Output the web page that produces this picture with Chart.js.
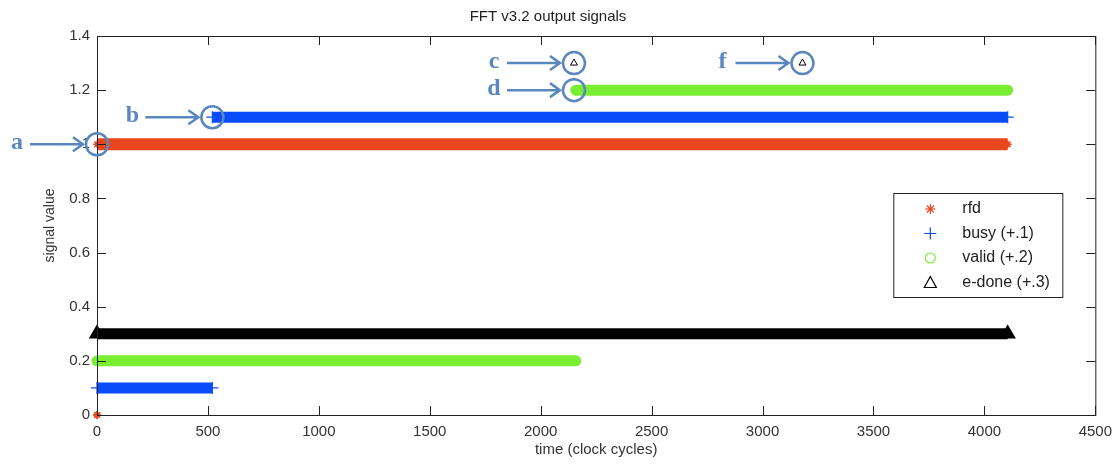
<!DOCTYPE html>
<html>
<head>
<meta charset="utf-8">
<script src="https://cdn.jsdelivr.net/npm/chart.js@4.4.0/dist/chart.umd.min.js"></script>
<style>
    html, body { margin: 0; padding: 0; background: #fff; }
    #wrap { width: 1120px; height: 469px; }
</style>
</head>
<body>
<div id="wrap"><canvas id="fft"></canvas></div>
<script>
// step signals: edges in clock cycles, level (0/1) between edges
const rfdEdges = [0, 1, 4105];
const rfdLevels = [0, 1];
const busyEdges = [0, 520, 4105];
const busyLevels = [0, 1];
const validEdges = [0, 2158, 4105];
const validLevels = [0, 1];
const edoneEdges = [0, 4105];
const edoneLevels = [0];
const edonePulses = [2150, 3180]; // single cycle highs of e-done

// plot offsets so the traces don't overlap
const offsets = { rfd: 0, busy: 0.1, valid: 0.2, edone: 0.3 };

// axis ticks
const xTicks = [0, 500, 1000, 1500, 2000, 2500, 3000, 3500, 4000, 4500];
const yTicks = [0, 0.2, 0.4, 0.6, 0.8, 1, 1.2, 1.4];

// callouts a..f (point in data coords)
const calloutLabels = ['a', 'b', 'c', 'd', 'f'];
const calloutX = [0, 520, 2150, 2150, 3180];
const calloutY = [1, 1.1, 1.3, 1.2, 1.3];

const legendNames = ['rfd', 'busy (+.1)', 'valid (+.2)', 'e-done (+.3)'];

const RED = '#e8461e';
const BLUE = '#0a4cf7';
const GREEN = '#79ee32';
const NOTE = '#5b87bf';
const FONT = '"Liberation Sans", Arial, sans-serif';

function steps(edges, levels, offset) {
    var pts = [];
    for (var i = 0; i < levels.length; i++) {
        if (i > 0) pts.push({ x: edges[i], y: null });
        pts.push({ x: edges[i], y: levels[i] + offset });
        pts.push({ x: edges[i + 1], y: levels[i] + offset });
    }
    return pts;
}

function trace(pts, color, width, style, radius, cap) {
    return {
        data: pts,
        showLine: true,
        borderColor: color,
        backgroundColor: color,
        borderWidth: width,
        borderCapStyle: cap || 'butt',
        pointStyle: style,
        pointRadius: radius,
        pointBorderWidth: 1.5,
        pointBorderColor: color,
        pointBackgroundColor: color,
        pointHoverRadius: radius,
        clip: false
    };
}

const datasets = [
    trace(steps(rfdEdges, rfdLevels, offsets.rfd), RED, 12, 'star', 4),
    trace(steps(busyEdges, busyLevels, offsets.busy), BLUE, 11, 'cross', 6),
    trace(steps(validEdges, validLevels, offsets.valid), GREEN, 11, 'circle', 0, 'round'),
    trace(steps(edoneEdges, edoneLevels, offsets.edone), '#000', 11, 'triangle', 8),
    {
        data: edonePulses.map(t => ({ x: t, y: 1 + offsets.edone })),
        showLine: false,
        pointStyle: 'triangle',
        pointRadius: 4,
        pointBorderWidth: 1,
        pointBorderColor: '#000',
        pointBackgroundColor: '#fff',
        clip: false
    }
];
datasets[1].pointBorderWidth = 1.2;

function marker(ctx, i, x, y) {
    ctx.save();
    ctx.lineWidth = 1.2;
    if (i === 0) {
        ctx.strokeStyle = RED;
        for (var k = 0; k < 4; k++) {
            var a = k * Math.PI / 4;
            ctx.beginPath();
            ctx.moveTo(x - 5 * Math.cos(a), y - 5 * Math.sin(a));
            ctx.lineTo(x + 5 * Math.cos(a), y + 5 * Math.sin(a));
            ctx.stroke();
        }
    } else if (i === 1) {
        ctx.strokeStyle = BLUE;
        ctx.beginPath();
        ctx.moveTo(x - 6, y); ctx.lineTo(x + 6, y);
        ctx.moveTo(x, y - 6); ctx.lineTo(x, y + 6);
        ctx.stroke();
    } else if (i === 2) {
        ctx.strokeStyle = GREEN;
        ctx.beginPath();
        ctx.arc(x, y, 5, 0, Math.PI * 2);
        ctx.stroke();
    } else {
        ctx.strokeStyle = '#000';
        ctx.beginPath();
        ctx.moveTo(x, y - 6); ctx.lineTo(x + 6, y + 5); ctx.lineTo(x - 6, y + 5);
        ctx.closePath();
        ctx.stroke();
    }
    ctx.restore();
}

const matlabFrame = {
    id: 'matlabFrame',
    afterDatasetsDraw(chart) {
        const ctx = chart.ctx;
        const a = chart.chartArea;
        const xs = chart.scales.x, ys = chart.scales.y;
        ctx.save();
        ctx.strokeStyle = '#222';
        ctx.lineWidth = 1;
        ctx.strokeRect(a.left + 0.5, a.top + 0.5, a.right - a.left, a.bottom - a.top);
        ctx.beginPath();
        xTicks.forEach(t => {
            const px = Math.round(xs.getPixelForValue(t)) + 0.5;
            ctx.moveTo(px, a.bottom); ctx.lineTo(px, a.bottom - 9);
            ctx.moveTo(px, a.top); ctx.lineTo(px, a.top + 9);
        });
        yTicks.forEach(v => {
            const py = Math.round(ys.getPixelForValue(v)) + 0.5;
            ctx.moveTo(a.left, py); ctx.lineTo(a.left + 9, py);
            ctx.moveTo(a.right, py); ctx.lineTo(a.right - 9, py);
        });
        ctx.stroke();

        // legend box
        const bx = a.right - 202, by = a.top + 157, bw = 169, bh = 104;
        ctx.fillStyle = '#fff';
        ctx.fillRect(bx, by, bw, bh);
        ctx.strokeRect(bx + 0.5, by + 0.5, bw, bh);
        ctx.font = '16px ' + FONT;
        ctx.fillStyle = '#222';
        ctx.textBaseline = 'middle';
        legendNames.forEach((name, i) => {
            const y = by + 16 + i * 24.5;
            marker(ctx, i, bx + 37, y);
            ctx.fillText(name, bx + 69, y);
        });

        // callouts
        ctx.strokeStyle = NOTE;
        ctx.fillStyle = NOTE;
        ctx.lineWidth = 2.5;
        ctx.font = 'bold 24px "Liberation Serif", "DejaVu Serif", serif';
        ctx.textAlign = 'center';
        calloutLabels.forEach((lab, i) => {
            const cx = xs.getPixelForValue(calloutX[i]);
            const cy = ys.getPixelForValue(calloutY[i]);
            ctx.beginPath();
            ctx.arc(cx, cy, 11, 0, Math.PI * 2);
            ctx.stroke();
            ctx.beginPath();
            ctx.moveTo(cx - 67, cy); ctx.lineTo(cx - 14, cy);
            ctx.moveTo(cx - 24, cy - 7); ctx.lineTo(cx - 14, cy); ctx.lineTo(cx - 24, cy + 7);
            ctx.stroke();
            ctx.fillText(lab, cx - 80, cy - 1);
        });
        ctx.restore();
    }
};

new Chart(document.getElementById('fft'), {
    type: 'scatter',
    data: { datasets: datasets },
    options: {
        responsive: true,
        maintainAspectRatio: false,
        animation: false,
        events: [],
        layout: { padding: { left: 0, right: 24, top: 0, bottom: 0 } },
        plugins: {
            legend: { display: false },
            tooltip: { enabled: false },
            title: {
                display: true,
                text: 'FFT v3.2 output signals',
                color: '#222',
                font: { family: FONT, size: 15, weight: 'normal' },
                padding: { top: 8, bottom: 10 }
            }
        },
        scales: {
            x: {
                type: 'linear',
                min: 0,
                max: 4500,
                afterBuildTicks: s => { s.ticks = xTicks.map(v => ({ value: v })); },
                afterFit: s => { s.height = 54; },
                grid: { display: false, drawTicks: false, tickLength: 0 },
                border: { display: false },
                ticks: {
                    color: '#333',
                    padding: 8,
                    maxRotation: 0,
                    font: { family: FONT, size: 15 },
                    callback: v => String(v)
                },
                title: {
                    display: true,
                    text: 'time (clock cycles)',
                    color: '#333',
                    font: { family: FONT, size: 15 },
                    padding: { top: 0, bottom: 10 }
                }
            },
            y: {
                min: 0,
                max: 1.4,
                afterBuildTicks: s => { s.ticks = yTicks.map(v => ({ value: v })); },
                afterFit: s => { s.width = 97; },
                grid: { display: false, drawTicks: false, tickLength: 0 },
                border: { display: false },
                ticks: {
                    color: '#333',
                    padding: 7,
                    font: { family: FONT, size: 15 },
                    callback: v => String(Number(v.toFixed(1)))
                },
                title: {
                    display: true,
                    text: 'signal value',
                    color: '#333',
                    font: { family: FONT, size: 14 },
                    padding: { top: 42, bottom: 0 }
                }
            }
        }
    },
    plugins: [matlabFrame]
});
</script>
</body>
</html>
